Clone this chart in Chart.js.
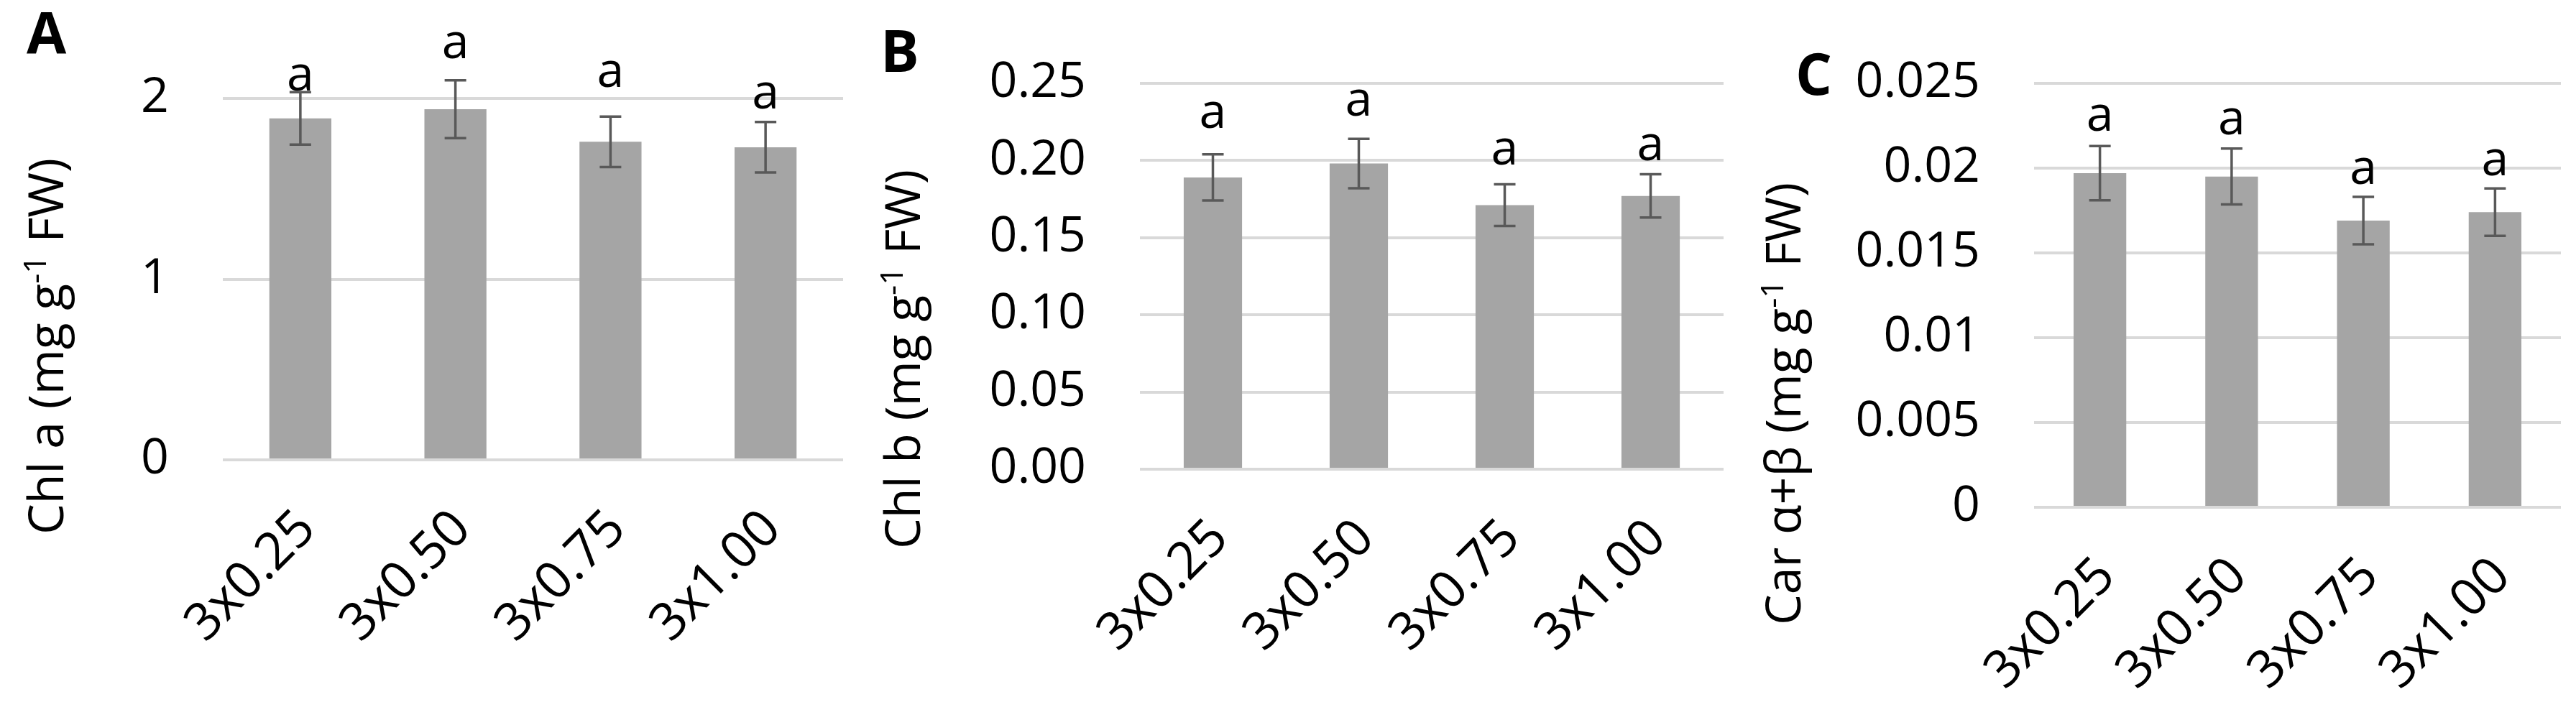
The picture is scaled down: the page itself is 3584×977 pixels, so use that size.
<!DOCTYPE html>
<html>
<head>
<meta charset="utf-8">
<script src="https://cdn.jsdelivr.net/npm/chart.js@4.4.1/dist/chart.umd.min.js"></script>
<style>
  html, body { margin: 0; padding: 0; background: #fff; }
  body { width: 3584px; height: 977px; position: relative; overflow: hidden; }
  canvas { position: absolute; top: 0; }
</style>
</head>
<body>
<canvas id="chartA" width="1200" height="977" style="left:0px"></canvas>
<canvas id="chartB" width="1220" height="977" style="left:1190px"></canvas>
<canvas id="chartC" width="1174" height="977" style="left:2410px"></canvas>
<script>
const categories = ['3x0.25', '3x0.50', '3x0.75', '3x1.00'];

// A - Chl a
const chlA = [1.89, 1.94, 1.76, 1.73];
const chlAErr = [0.145, 0.16, 0.14, 0.14];
const chlATicks = [0, 1, 2];

// B - Chl b
const chlB = [0.189, 0.198, 0.171, 0.177];
const chlBErr = [0.015, 0.016, 0.0135, 0.014];
const chlBTicks = [0, 0.05, 0.10, 0.15, 0.20, 0.25];

// C - Car a+b
const car = [0.0197, 0.0195, 0.0169, 0.0174];
const carErr = [0.0016, 0.00165, 0.0014, 0.0014];
const carTicks = [0, 0.005, 0.01, 0.015, 0.02, 0.025];

// significance letters (same group everywhere)
const letters = ['a', 'a', 'a', 'a'];
// height where each letter sits, in axis units
const chlALetterAt = [2.12, 2.30, 2.14, 2.02];
const chlBLetterAt = [0.230, 0.238, 0.2065, 0.209];
const carLetterAt = [0.0230, 0.0228, 0.0199, 0.0204];

const FONT = '"Open Sans", "Liberation Sans", sans-serif';
const FONT_SIZE = 68;

const panels = {};

function drawYTitle(ctx, t) {
    const sup = 44;
    ctx.save();
    ctx.translate(t.x, t.y);
    ctx.rotate(-Math.PI / 2);
    ctx.font = `${FONT_SIZE}px ${FONT}`;
    const w1 = ctx.measureText(t.before).width;
    const w3 = ctx.measureText(t.after).width;
    ctx.font = `${sup}px ${FONT}`;
    const w2 = ctx.measureText(t.sup).width;
    let x = -(w1 + w2 + w3) / 2;
    ctx.fillStyle = '#000';
    ctx.textAlign = 'left';
    ctx.textBaseline = 'alphabetic';
    ctx.font = `${FONT_SIZE}px ${FONT}`;
    ctx.fillText(t.before, x, 0);
    x += w1;
    ctx.font = `${sup}px ${FONT}`;
    ctx.fillText(t.sup, x, -24);
    x += w2;
    ctx.font = `${FONT_SIZE}px ${FONT}`;
    ctx.fillText(t.after, x, 0);
    ctx.restore();
}

const decor = {
    id: 'decor',
    afterDatasetsDraw(chart) {
        const p = panels[chart.canvas.id];
        if (!p) return;
        const ctx = chart.ctx;
        const ds = chart.data.datasets[0];
        const meta = chart.getDatasetMeta(0);
        const y = chart.scales.y;

        ctx.save();
        // error bars
        ctx.strokeStyle = '#595959';
        ctx.lineWidth = 3.5;
        meta.data.forEach((bar, i) => {
            const top = y.getPixelForValue(ds.data[i] + ds.errors[i]);
            const bot = y.getPixelForValue(ds.data[i] - ds.errors[i]);
            ctx.beginPath();
            ctx.moveTo(bar.x, top); ctx.lineTo(bar.x, bot);
            ctx.moveTo(bar.x - 15, top); ctx.lineTo(bar.x + 15, top);
            ctx.moveTo(bar.x - 15, bot); ctx.lineTo(bar.x + 15, bot);
            ctx.stroke();
        });

        // letters above the bars
        ctx.fillStyle = '#000';
        ctx.font = `${FONT_SIZE}px ${FONT}`;
        ctx.textAlign = 'center';
        ctx.textBaseline = 'middle';
        meta.data.forEach((bar, i) => {
            ctx.fillText(ds.letters[i], bar.x, y.getPixelForValue(ds.letterAt[i]));
        });

        // panel letter
        ctx.font = `bold 80px ${FONT}`;
        ctx.textAlign = 'left';
        ctx.textBaseline = 'alphabetic';
        ctx.fillText(p.panel, p.panelX, p.panelY);
        ctx.restore();

        drawYTitle(ctx, p.title);
    }
};

function buildPanel(p) {
    panels[p.id] = p;
    const canvas = document.getElementById(p.id);
    new Chart(canvas, {
        type: 'bar',
        data: {
            labels: categories,
            datasets: [{
                data: p.values,
                errors: p.errors,
                letters: letters,
                letterAt: p.letterAt,
                backgroundColor: '#a5a5a5',
                categoryPercentage: 1,
                barPercentage: 0.4
            }]
        },
        options: {
            responsive: false,
            animation: false,
            devicePixelRatio: 1,
            layout: { padding: { left: 0, top: p.area.top, right: canvas.width - p.area.right, bottom: 0 } },
            plugins: { legend: { display: false }, tooltip: { enabled: false } },
            scales: {
                x: {
                    grid: { display: false },
                    border: { display: false },
                    ticks: {
                        color: '#000',
                        font: { family: FONT, size: 72 },
                        minRotation: 45,
                        maxRotation: 45,
                        autoSkip: false,
                        padding: 46,
                        labelOffset: 10
                    },
                    afterFit: s => { s.height = canvas.height - p.area.bottom; }
                },
                y: {
                    min: 0,
                    max: p.ticks[p.ticks.length - 1],
                    afterBuildTicks: s => { s.ticks = p.ticks.map(v => ({ value: v })); },
                    ticks: {
                        color: '#000',
                        font: { family: FONT, size: FONT_SIZE },
                        padding: 75,
                        callback: p.fmt
                    },
                    grid: { color: '#d9d9d9', lineWidth: 4, drawTicks: false },
                    border: { display: false },
                    afterFit: s => { s.width = p.area.left; }
                }
            }
        },
        plugins: [decor]
    });
}

buildPanel({
    id: 'chartA', values: chlA, errors: chlAErr, letterAt: chlALetterAt, ticks: chlATicks,
    fmt: v => String(v),
    area: { left: 310, right: 1173, top: 137, bottom: 640 },
    panel: 'A', panelX: 37, panelY: 75,
    title: { x: 88, y: 482, before: 'Chl a (mg g', sup: '-1', after: ' FW)' }
});

buildPanel({
    id: 'chartB', values: chlB, errors: chlBErr, letterAt: chlBLetterAt, ticks: chlBTicks,
    fmt: v => v.toFixed(2),
    area: { left: 396, right: 1208, top: 78, bottom: 653 },
    panel: 'B', panelX: 35, panelY: 100,
    title: { x: 90, y: 500, before: 'Chl b (mg g', sup: '-1', after: ' FW)' }
});

buildPanel({
    id: 'chartC', values: car, errors: carErr, letterAt: carLetterAt, ticks: carTicks,
    fmt: v => String(parseFloat(v.toFixed(3))),
    area: { left: 420, right: 1153, top: 47, bottom: 706 },
    panel: 'C', panelX: 88, panelY: 132,
    title: { x: 95, y: 562, before: 'Car α+β (mg g', sup: '-1', after: ' FW)' }
});
</script>
</body>
</html>
